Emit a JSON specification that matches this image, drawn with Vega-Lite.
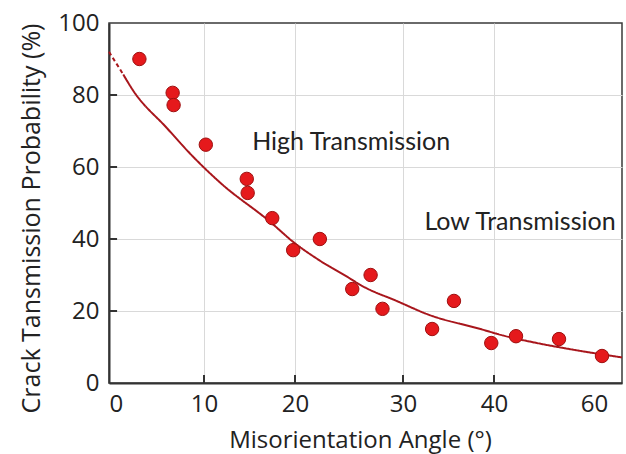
{
  "$schema": "https://vega.github.io/schema/vega-lite/v6.json",
  "width": 513,
  "height": 360,
  "autosize": {"type": "none"},
  "padding": {"left": 109, "top": 23, "right": 4, "bottom": 71},
  "background": "white",
  "config": {
    "view": {"stroke": "#3a3a3a", "strokeWidth": 1.5},
    "font": "Open Sans"
  },
  "datasets": {
    "curve": [
      {"angle": 0, "prob": 92, "part": "dash"},
      {"angle": 1.5, "prob": 85.7, "part": "dash"},
      {"angle": 1.5, "prob": 85.7, "part": "solid"},
      {"angle": 2.5, "prob": 81.4, "part": "solid"},
      {"angle": 6.1, "prob": 70.8, "part": "solid"},
      {"angle": 8.8, "prob": 63.0, "part": "solid"},
      {"angle": 11.8, "prob": 55.6, "part": "solid"},
      {"angle": 17.3, "prob": 44.7, "part": "solid"},
      {"angle": 19.8, "prob": 39.2, "part": "solid"},
      {"angle": 22.3, "prob": 34.0, "part": "solid"},
      {"angle": 25.0, "prob": 29.2, "part": "solid"},
      {"angle": 26.2, "prob": 27.0, "part": "solid"},
      {"angle": 29.4, "prob": 22.8, "part": "solid"},
      {"angle": 32.9, "prob": 18.9, "part": "solid"},
      {"angle": 38.5, "prob": 15.0, "part": "solid"},
      {"angle": 41.8, "prob": 13.2, "part": "solid"},
      {"angle": 48.6, "prob": 11.1, "part": "solid"},
      {"angle": 55.2, "prob": 9.4, "part": "solid"},
      {"angle": 65.6, "prob": 7.1, "part": "solid"}
    ],
    "points": [
      {"angle": 3.2, "prob": 90.0},
      {"angle": 6.7, "prob": 80.6},
      {"angle": 6.8, "prob": 77.2},
      {"angle": 10.2, "prob": 66.2},
      {"angle": 14.7, "prob": 56.7},
      {"angle": 14.8, "prob": 52.8},
      {"angle": 17.5, "prob": 45.8},
      {"angle": 19.8, "prob": 36.9},
      {"angle": 22.3, "prob": 40.0},
      {"angle": 25.3, "prob": 26.1},
      {"angle": 27.0, "prob": 30.0},
      {"angle": 28.1, "prob": 20.6},
      {"angle": 33.2, "prob": 15.0},
      {"angle": 35.6, "prob": 22.8},
      {"angle": 39.7, "prob": 11.1},
      {"angle": 44.4, "prob": 13.0},
      {"angle": 53.0, "prob": 12.2},
      {"angle": 61.6, "prob": 7.5}
    ],
    "xticks": [
      {"angle": 10, "prob": 0},
      {"angle": 20, "prob": 0},
      {"angle": 30, "prob": 0},
      {"angle": 40, "prob": 0}
    ],
    "yticks": [
      {"angle": 0, "prob": 20},
      {"angle": 0, "prob": 40},
      {"angle": 0, "prob": 60},
      {"angle": 0, "prob": 80}
    ],
    "notes": [
      {"angle": 25.2, "prob": 66.9, "label": "High Transmission"},
      {"angle": 45.2, "prob": 44.7, "label": "Low Transmission"}
    ]
  },
  "encoding": {
    "x": {
      "field": "angle",
      "type": "quantitative",
      "scale": {"domain": [0, 10, 20, 30, 40, 60, 65.6], "range": [0, 95, 186, 294, 385, 485, 513], "nice": false, "zero": false},
      "axis": {
        "title": "Misorientation Angle (°)",
        "values": [0, 10, 20, 30, 40, 60],
        "grid": true,
        "gridColor": {"condition": {"test": "datum.value == 0 || datum.value == 60", "value": "transparent"}, "value": "#d9d9d9"},
        "gridWidth": 1,
        "ticks": false,
        "tickSize": 0,
        "domainColor": "#333333",
        "domainWidth": 2,
        "labelFontSize": 24,
        "labelColor": "#222222",
        "labelPadding": 9,
        "titleFontSize": 24,
        "titleFontWeight": "normal",
        "titleColor": "#222222",
        "titlePadding": 12,
        "titleX": 251
      }
    },
    "y": {
      "field": "prob",
      "type": "quantitative",
      "scale": {"domain": [0, 100], "nice": false, "zero": true},
      "axis": {
        "title": "Crack Tansmission Probability (%)",
        "values": [0, 20, 40, 60, 80, 100],
        "grid": true,
        "gridColor": {"condition": {"test": "datum.value == 0 || datum.value == 100", "value": "transparent"}, "value": "#d9d9d9"},
        "gridWidth": 1,
        "ticks": false,
        "tickSize": 0,
        "domainColor": "#333333",
        "domainWidth": 2,
        "labelFontSize": 24,
        "labelColor": "#222222",
        "labelPadding": 10,
        "titleFontSize": 25,
        "titleFontWeight": "normal",
        "titleColor": "#222222",
        "titleX": -78,
        "titleY": 195,
        "titleAlign": "center",
        "titleBaseline": "middle",
        "titleAngle": 270
      }
    }
  },
  "layer": [
    {
      "data": {"name": "xticks"},
      "mark": {"type": "rule", "color": "#333333", "strokeWidth": 2},
      "encoding": {"y2": {"datum": 2.2}}
    },
    {
      "data": {"name": "yticks"},
      "mark": {"type": "rule", "color": "#333333", "strokeWidth": 2},
      "encoding": {"x2": {"datum": 0.85}}
    },
    {
      "data": {"name": "curve"},
      "mark": {"type": "line", "color": "#a8161c", "strokeWidth": 2, "interpolate": "monotone"},
      "encoding": {
        "strokeDash": {"field": "part", "type": "nominal", "scale": {"domain": ["dash", "solid"], "range": [[4, 3], [1, 0]]}, "legend": null}
      }
    },
    {
      "data": {"name": "points"},
      "mark": {"type": "circle", "size": 180, "fill": "#e5191c", "stroke": "#9e1010", "strokeWidth": 1, "opacity": 1}
    },
    {
      "data": {"name": "notes"},
      "mark": {"type": "text", "font": "Lato", "fontSize": 25, "color": "#222222", "align": "center", "baseline": "middle"},
      "encoding": {"text": {"field": "label", "type": "nominal"}}
    }
  ]
}
